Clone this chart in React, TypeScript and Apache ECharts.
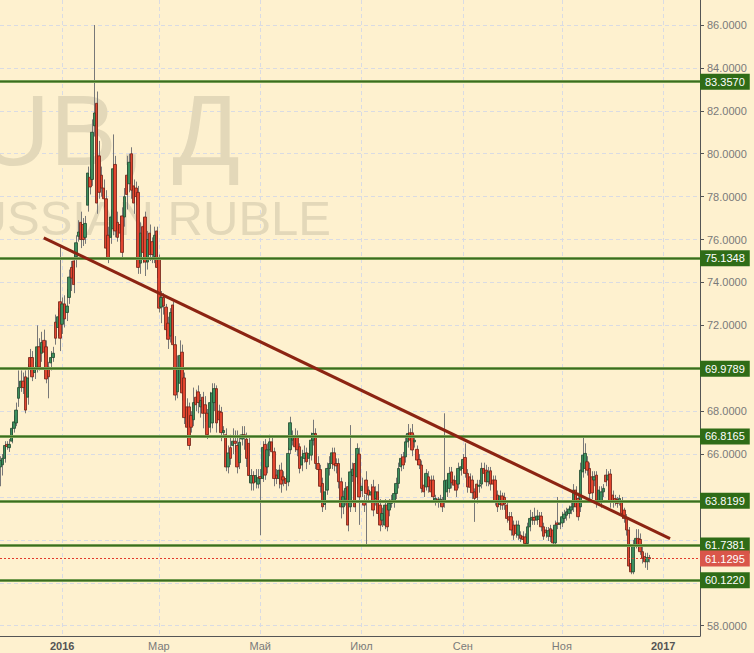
import React, { useEffect, useRef } from "react";
import * as echarts from "echarts";

// ---- data ----
const FIRST_DAY = "2015-11-25";
const LAST_DAY = "2017-01-24";

// [open, close, low, high] per trading day, starting 2015-11-25
const OHLC: number[][] = [
  [65.4, 65.7, 64.5, 65.9], [65.5, 65.8, 65.0, 66.0], [65.8, 66.4, 65.6, 66.6], [66.45, 66.35, 66.2, 66.6], [66.3, 66.45, 66.1, 66.7],
  [66.6, 67.2, 66.5, 67.4], [67.2, 67.5, 67.0, 67.8], [67.45, 68.05, 67.3, 68.4], [68.6, 69.1, 68.2, 69.9], [69.1, 69.4, 68.9, 69.9],
  [69.4, 69.1, 68.8, 69.8], [69.6, 68.05, 67.9, 69.9], [68.65, 69.55, 68.3, 70.2], [70.5, 70.05, 69.8, 70.9], [70.5, 69.6, 69.4, 70.8],
  [69.8, 69.95, 69.5, 70.3], [70.05, 71.0, 69.8, 72.0], [71.0, 70.05, 69.9, 71.4], [70.7, 71.2, 70.3, 71.7], [71.3, 70.75, 70.5, 71.8],
  [71.0, 69.5, 69.3, 71.3], [70.05, 69.6, 68.6, 70.3], [70.25, 70.5, 69.9, 70.8], [70.5, 70.7, 70.3, 71.0], [72.15, 71.4, 71.1, 72.5],
  [71.9, 72.4, 71.5, 72.8], [73.1, 71.4, 70.8, 75.65], [72.05, 73.0, 71.6, 73.3], [73.0, 72.3, 71.9, 73.4], [72.6, 72.9, 72.2, 73.7],
  [73.3, 74.25, 73.0, 74.6], [74.7, 74.2, 73.6, 75.0], [75.0, 73.9, 73.5, 75.3], [75.2, 75.85, 74.7, 76.2], [76.15, 76.35, 75.9, 76.9],
  [76.8, 76.0, 75.6, 77.3], [76.7, 76.0, 75.7, 77.0], [76.1, 76.75, 75.8, 77.1], [77.6, 79.1, 77.3, 79.4], [78.9, 78.45, 78.1, 79.3],
  [78.8, 81.0, 78.5, 81.6], [81.3, 81.9, 80.8, 86.0], [82.35, 77.7, 77.2, 82.9], [79.9, 78.2, 77.9, 80.6], [79.0, 78.4, 78.0, 79.4],
  [78.4, 77.9, 77.5, 78.8], [77.9, 75.6, 75.3, 78.3], [76.2, 75.1, 74.9, 76.6], [76.1, 77.05, 75.8, 77.4], [76.5, 79.3, 76.2, 80.9],
  [79.5, 76.4, 76.1, 79.9], [76.8, 76.1, 75.9, 77.3], [76.7, 76.3, 75.9, 77.1], [77.1, 75.4, 75.1, 77.5], [77.05, 78.0, 76.6, 78.4],
  [79.0, 78.1, 77.4, 79.9], [78.6, 79.6, 78.2, 80.0], [80.0, 78.3, 77.9, 80.3], [78.5, 77.7, 77.2, 78.8], [78.4, 78.0, 77.6, 78.7],
  [78.2, 74.7, 74.4, 78.5], [74.9, 76.3, 74.4, 76.8], [76.6, 75.4, 74.9, 77.0], [77.05, 74.95, 74.3, 77.3], [74.95, 76.0, 74.6, 76.4],
  [76.3, 75.3, 75.0, 76.7], [75.9, 75.3, 74.9, 76.1], [75.2, 76.2, 74.9, 76.6], [76.4, 74.7, 74.2, 76.6], [75.1, 72.8, 72.6, 75.3],
  [72.85, 73.3, 72.1, 73.6], [73.3, 72.9, 72.5, 73.5], [72.85, 71.8, 71.5, 73.0], [72.1, 71.35, 70.9, 72.4], [71.5, 72.6, 71.2, 72.8],
  [72.95, 71.1, 70.9, 73.1], [71.1, 68.75, 68.5, 71.5], [68.9, 70.0, 68.6, 70.6], [69.3, 70.6, 69.0, 71.3], [70.75, 68.85, 68.5, 71.1],
  [69.55, 67.7, 67.4, 69.8], [68.2, 67.25, 66.5, 68.6], [68.2, 66.4, 66.2, 68.4], [67.8, 67.25, 67.0, 68.0], [67.6, 68.4, 67.3, 69.1],
  [68.65, 68.3, 68.0, 69.0], [68.9, 68.4, 67.9, 69.2], [68.2, 68.5, 67.7, 68.8], [68.65, 67.9, 67.2, 68.9], [68.3, 67.9, 67.5, 68.7],
  [67.9, 66.9, 66.7, 68.1], [67.25, 68.4, 67.0, 68.9], [67.45, 68.85, 67.2, 69.3], [68.4, 69.05, 68.0, 69.3], [69.05, 67.45, 67.0, 69.2],
  [68.0, 67.6, 67.3, 68.3], [67.95, 67.0, 66.6, 68.2], [67.0, 67.1, 66.8, 67.3], [66.9, 65.4, 65.2, 67.2], [65.4, 66.05, 65.1, 66.4],
  [66.3, 65.8, 65.5, 66.9], [66.4, 66.6, 66.0, 67.2], [66.6, 66.5, 66.1, 67.1], [66.4, 65.4, 65.1, 67.1], [65.6, 66.55, 65.3, 66.9],
  [66.7, 66.9, 66.4, 67.3], [66.9, 66.8, 66.2, 67.3], [66.7, 65.8, 65.4, 67.0], [66.5, 65.0, 64.7, 66.8], [64.65, 65.0, 64.3, 65.3],
  [65.0, 64.65, 64.3, 65.2], [64.7, 65.0, 64.4, 65.3], [64.6, 64.9, 64.4, 65.3], [64.95, 64.86, 62.22, 65.3], [64.86, 66.31, 64.7, 66.6],
  [66.45, 65.02, 64.8, 66.7], [65.4, 66.2, 65.1, 66.5], [66.2, 66.57, 65.9, 66.9], [66.57, 66.11, 65.8, 66.8], [66.11, 64.86, 64.5, 66.3],
  [65.02, 64.86, 64.6, 65.3], [64.86, 65.25, 64.4, 65.5], [65.25, 64.6, 64.2, 65.6], [64.94, 64.79, 64.5, 65.2], [64.86, 64.63, 64.3, 65.0],
  [64.7, 66.03, 64.5, 66.3], [66.2, 67.46, 66.0, 67.74], [66.65, 66.84, 66.4, 67.1], [66.84, 66.34, 66.1, 67.2], [66.84, 66.2, 65.9, 67.1],
  [66.34, 65.33, 65.1, 66.5], [65.49, 65.87, 65.2, 66.2], [65.8, 66.03, 65.6, 66.4], [66.06, 65.64, 65.3, 66.3], [65.8, 66.03, 65.5, 66.5],
  [65.95, 66.65, 65.7, 67.0], [66.65, 66.96, 66.4, 67.6], [66.96, 65.56, 65.3, 67.2], [65.56, 65.28, 64.8, 65.9], [65.28, 64.5, 64.2, 65.5],
  [64.63, 63.54, 63.3, 64.9], [63.65, 64.24, 63.4, 64.5], [64.32, 65.33, 64.1, 65.6], [65.33, 65.56, 65.0, 65.9], [65.56, 66.06, 65.3, 66.3],
  [66.06, 65.5, 65.2, 66.3], [65.56, 65.45, 65.1, 65.8], [65.56, 64.71, 64.4, 65.8], [64.71, 63.54, 63.0, 64.9], [63.54, 64.01, 63.2, 64.3],
  [63.9, 64.4, 63.6, 64.7], [64.48, 62.69, 62.4, 64.7], [63.54, 65.17, 63.3, 67.35], [65.0, 65.3, 64.7, 65.6], [65.56, 63.54, 63.3, 65.8],
  [64.94, 66.26, 64.6, 66.5], [66.0, 64.0, 62.7, 66.3], [64.3, 64.5, 64.0, 64.9], [63.78, 63.62, 63.3, 64.1], [64.79, 64.16, 61.76, 65.2],
  [64.32, 64.09, 63.8, 64.5], [64.09, 64.24, 63.8, 64.6], [64.47, 63.39, 63.1, 64.8], [63.93, 64.24, 63.6, 64.5], [64.24, 63.23, 63.0, 64.6],
  [63.62, 62.69, 62.4, 63.9], [62.92, 63.23, 62.6, 63.5], [62.69, 63.62, 62.5, 63.9], [63.62, 62.61, 62.4, 63.8], [63.39, 63.7, 63.1, 63.9],
  [63.7, 63.85, 63.5, 64.1], [63.78, 64.16, 63.5, 64.4], [64.16, 64.63, 63.9, 64.9], [64.63, 65.33, 64.4, 65.6], [65.41, 65.8, 65.2, 66.0],
  [65.87, 65.49, 65.3, 66.1], [65.87, 66.57, 65.6, 66.9], [66.57, 66.96, 66.3, 67.4], [66.99, 66.65, 66.4, 67.2], [66.99, 66.19, 65.9, 67.4],
  [66.57, 66.65, 66.3, 66.9], [66.22, 65.72, 65.5, 66.4], [65.75, 65.49, 65.3, 66.0], [65.49, 64.4, 64.2, 65.7], [64.55, 64.24, 64.0, 64.8],
  [64.47, 65.1, 64.3, 65.3], [64.94, 64.48, 64.2, 65.2], [64.79, 64.24, 64.0, 65.0], [64.79, 64.01, 63.8, 65.0], [63.85, 63.93, 63.6, 64.1],
  [63.9, 63.75, 63.5, 64.0], [63.8, 63.9, 63.6, 64.1], [63.85, 63.54, 63.3, 64.0], [63.82, 64.76, 63.5, 67.9], [64.24, 64.79, 64.0, 65.1],
  [64.4, 65.1, 64.2, 65.4], [65.17, 64.66, 64.4, 65.4], [64.79, 64.55, 64.3, 65.0], [64.76, 64.32, 64.0, 65.0], [64.6, 65.33, 64.4, 65.6],
  [65.25, 65.41, 65.0, 65.6], [65.33, 65.75, 65.1, 66.0], [65.84, 65.1, 64.9, 66.5], [65.1, 64.47, 64.2, 65.3], [64.94, 64.45, 64.2, 65.1],
  [64.79, 64.2, 63.9, 65.0], [64.24, 63.93, 62.84, 64.4], [64.6, 63.98, 63.7, 64.8], [64.5, 64.55, 64.2, 64.8], [64.6, 65.33, 64.4, 65.6],
  [65.33, 65.1, 64.9, 65.6], [65.25, 64.71, 64.5, 65.5], [64.71, 65.17, 64.5, 65.4], [65.22, 64.6, 64.3, 65.4], [64.79, 64.6, 64.3, 65.0],
  [64.79, 63.82, 63.6, 65.0], [64.09, 63.54, 63.3, 64.3], [63.65, 64.05, 63.4, 64.3], [64.05, 63.62, 63.4, 64.2], [63.98, 63.67, 63.4, 64.2],
  [63.62, 63.0, 62.8, 63.8], [63.08, 62.92, 62.7, 63.3], [63.08, 62.46, 62.2, 63.3], [62.69, 62.22, 62.0, 62.9], [62.69, 62.3, 62.1, 62.9],
  [62.22, 62.69, 62.0, 62.9], [62.22, 62.07, 61.9, 62.4], [62.17, 62.02, 61.85, 62.4], [62.14, 61.83, 61.7, 62.3], [61.83, 62.61, 61.7, 62.8],
  [62.61, 63.0, 62.4, 63.4], [62.92, 63.05, 62.7, 63.3], [63.05, 62.92, 62.7, 63.5], [62.92, 63.11, 62.7, 63.4], [62.95, 63.11, 62.8, 63.3],
  [63.11, 62.61, 62.4, 63.3], [62.61, 62.17, 62.0, 62.8], [62.46, 62.33, 62.1, 62.6], [62.17, 62.43, 61.95, 62.6], [62.52, 62.15, 61.9, 62.7],
  [62.46, 61.86, 61.7, 62.6], [61.86, 62.69, 61.7, 62.9], [62.79, 62.72, 62.5, 64.0], [62.72, 62.79, 62.5, 63.0], [62.79, 63.08, 62.6, 63.3],
  [63.0, 63.2, 62.8, 63.4], [63.15, 63.31, 62.9, 63.5], [63.23, 63.44, 63.0, 63.6], [63.39, 63.54, 63.2, 63.8], [63.54, 64.32, 63.3, 64.6],
  [64.32, 63.54, 63.3, 64.5], [63.93, 63.08, 62.9, 64.2], [63.54, 65.25, 63.3, 65.6], [65.17, 65.95, 64.9, 66.88], [65.33, 66.03, 65.1, 66.5],
  [65.64, 65.25, 65.0, 65.9], [65.33, 64.16, 63.9, 65.6], [64.94, 64.19, 63.9, 65.2], [64.79, 64.94, 64.5, 65.2], [65.02, 63.85, 63.5, 65.2],
  [63.78, 64.32, 63.6, 64.5], [63.78, 64.24, 63.5, 64.5], [64.24, 64.4, 64.0, 64.6], [65.02, 64.71, 64.5, 65.3], [64.79, 65.02, 64.5, 65.2],
  [65.07, 63.78, 63.5, 65.3], [64.09, 63.78, 63.5, 64.3], [63.93, 63.78, 63.6, 64.1], [63.88, 63.7, 63.5, 64.0], [63.78, 63.93, 63.6, 64.1],
  [63.82, 63.23, 63.0, 64.0], [63.39, 63.0, 62.8, 63.5], [63.0, 62.46, 62.2, 63.2], [62.46, 60.78, 60.6, 62.6], [60.9, 60.51, 60.4, 61.1],
  [60.51, 61.76, 60.4, 62.0], [61.76, 62.07, 61.6, 62.5], [62.07, 61.76, 61.5, 62.5], [62.02, 61.45, 61.3, 62.3], [61.45, 61.14, 60.9, 61.7],
  [61.22, 60.98, 60.7, 61.4], [60.98, 61.18, 60.6, 61.4], [61.17, 61.1295, 60.95, 61.3],
];

const LEVELS = [83.357, 75.1348, 69.9789, 66.8165, 63.8199, 61.7381, 60.122];
const LAST_PRICE = 61.1295;
// trend line: [category index, value]
const TREND = [[19, 76.08], [291, 62.06]];
const Y_TICKS = [58, 60, 62, 64, 66, 68, 70, 72, 74, 76, 78, 80, 82, 84, 86];
const Y_LABELS = [58, 66, 68, 72, 74, 76, 78, 80, 82, 84, 86];
const MONTHS_RU = ["Янв", "Фев", "Мар", "Апр", "Май", "Июн", "Июл", "Авг", "Сен", "Окт", "Ноя", "Дек"];
const WATERMARK_1 = "USDRUB, Д";
const WATERMARK_2 = "RUSSIAN RUBLE";

const Y_MIN = 57.52;
const Y_MAX = 87.165;

const FONT = "'Liberation Sans', Arial, sans-serif";
const BG = "#fef1cf";
const GRID_COLOR = "#d9dbe3";

function weekdays(start: string, end: string): string[] {
  const out: string[] = [];
  const d = new Date(start + "T00:00:00Z");
  const e = new Date(end + "T00:00:00Z");
  while (d.getTime() <= e.getTime()) {
    const wd = d.getUTCDay();
    if (wd !== 0 && wd !== 6) out.push(d.toISOString().slice(0, 10));
    d.setUTCDate(d.getUTCDate() + 1);
  }
  return out;
}

export default function App() {
  const ref = useRef<HTMLDivElement>(null);

  useEffect(() => {
    if (!ref.current) return;
    const chart = echarts.init(ref.current, undefined, { renderer: "svg" });

    const categories = weekdays(FIRST_DAY, LAST_DAY);
    const labelIdx = new Set<number>();
    for (let i = 1; i < categories.length; i++) {
      const m = Number(categories[i].slice(5, 7)) - 1;
      const pm = Number(categories[i - 1].slice(5, 7)) - 1;
      if (m !== pm && m % 2 === 0) labelIdx.add(i);
    }
    const isLabel = (index: number) => labelIdx.has(index);

    const bodies = OHLC.map(([o, c]) => [o, c, Math.min(o, c), Math.max(o, c)]);
    const wicks = OHLC.map((r, i) => [i, r[2], r[3]]);

    const boxLabel = (text: string, bg: string) => ({
      show: true,
      position: "end",
      distance: 0,
      formatter: () => text,
      backgroundColor: bg,
      color: "#ffffff",
      fontSize: 11,
      fontFamily: FONT,
      lineHeight: 12,
      padding: [2, 5, 2, 5],
    });

    const levelData: any[] = [];
    LEVELS.forEach((v) => {
      levelData.push({
        yAxis: v,
        lineStyle: { color: "#86ad62", width: 3, type: "solid" },
        label: { show: false },
      });
      levelData.push({
        yAxis: v,
        lineStyle: { color: "#3c6c1f", width: 1.4, type: "solid" },
        label: boxLabel(v.toFixed(4), "#2f6c17"),
      });
    });
    levelData.push({
      yAxis: LAST_PRICE,
      lineStyle: { color: "#e23a2c", width: 1, type: [2, 2] },
      label: boxLabel(LAST_PRICE.toFixed(4), "#d9564a"),
    });

    const option: any = {
      animation: false,
      backgroundColor: BG,
      textStyle: { fontFamily: FONT },
      graphic: [
        {
          type: "text",
          z: 1,
          x: 240,
          y: 130,
          silent: true,
          style: {
            text: WATERMARK_1,
            fill: "#e3d8b9",
            font: `100px ${FONT}`,
            textAlign: "right",
            textVerticalAlign: "middle",
          },
        },
        {
          type: "text",
          z: 1,
          x: 331,
          y: 218,
          silent: true,
          style: {
            text: WATERMARK_2,
            fill: "#e3d8b9",
            font: `49px ${FONT}`,
            textAlign: "right",
            textVerticalAlign: "middle",
          },
        },
      ],
      grid: { left: 0, right: 54, top: 0, bottom: 17, containLabel: false },
      xAxis: {
        type: "category",
        data: categories,
        boundaryGap: false,
        axisLine: { show: true, lineStyle: { color: "#555555", width: 1 } },
        axisTick: { show: false, interval: isLabel },
        axisLabel: {
          interval: isLabel,
          margin: 4,
          color: "#7a7a7a",
          fontSize: 11,
          fontFamily: FONT,
          formatter: (value: string) => {
            const m = Number(value.slice(5, 7)) - 1;
            if (m === 0) return `{b|${value.slice(0, 4)}}`;
            return MONTHS_RU[m];
          },
          rich: {
            b: { fontWeight: "bold", color: "#555555", fontSize: 11, fontFamily: FONT },
          },
        },
        splitLine: {
          show: true,
          interval: isLabel,
          lineStyle: { color: GRID_COLOR, width: 1, type: [4, 3] },
        },
      },
      yAxis: {
        type: "value",
        position: "right",
        min: Y_MIN,
        max: Y_MAX,
        axisLine: { show: true, lineStyle: { color: "#555555", width: 1 } },
        axisTick: {
          show: true,
          length: 4,
          customValues: Y_TICKS,
          lineStyle: { color: "#555555" },
        },
        axisLabel: {
          customValues: Y_LABELS,
          formatter: (v: number) => v.toFixed(4),
          color: "#7a7a7a",
          fontSize: 11,
          fontFamily: FONT,
          margin: 7,
        },
        splitLine: {
          show: true,
          lineStyle: { color: GRID_COLOR, width: 1, type: [4, 3] },
        },
      },
      series: [
        {
          type: "custom",
          name: "wicks",
          z: 2,
          silent: true,
          data: wicks,
          encode: { x: 0, y: [1, 2] },
          renderItem: (params: any, api: any) => {
            const i = api.value(0);
            const p1 = api.coord([i, api.value(1)]);
            const p2 = api.coord([i, api.value(2)]);
            const x = Math.round(p1[0]) + 0.5;
            return {
              type: "line",
              shape: { x1: x, y1: p1[1], x2: x, y2: p2[1] },
              style: { stroke: "#787878", lineWidth: 1 },
            };
          },
        },
        {
          type: "candlestick",
          name: "USDRUB",
          z: 3,
          silent: true,
          data: bodies,
          barWidth: 3,
          itemStyle: {
            color: "#3b8f5d",
            color0: "#e3452f",
            borderColor: "#22492e",
            borderColor0: "#6f2216",
            borderWidth: 0.8,
          },
        },
        {
          type: "line",
          name: "levels",
          z: 4,
          silent: true,
          data: [],
          markLine: {
            silent: true,
            symbol: ["none", "none"],
            animation: false,
            data: levelData,
          },
        },
        {
          type: "line",
          name: "trend",
          z: 5,
          silent: true,
          data: TREND,
          showSymbol: false,
          symbol: "none",
          lineStyle: { color: "#8c2412", width: 3 },
        },
      ],
    };

    chart.setOption(option);
    return () => chart.dispose();
  }, []);

  return (
    <div
      ref={ref}
      style={{ position: "fixed", left: 0, top: 0, width: 754, height: 653 }}
    />
  );
}
